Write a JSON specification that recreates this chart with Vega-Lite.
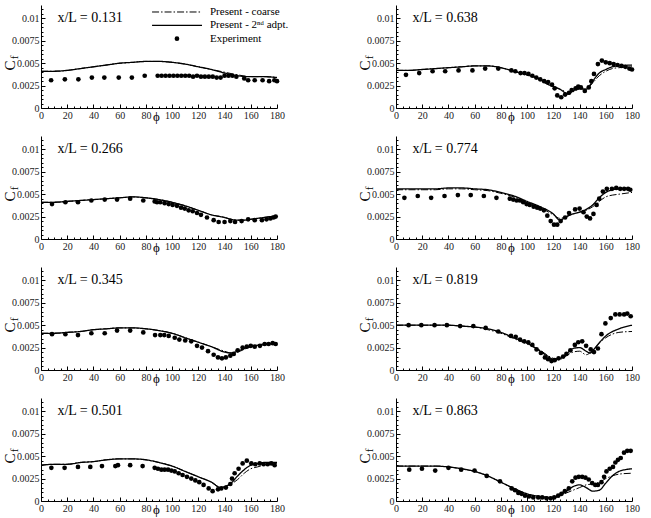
{
  "$schema": "https://vega.github.io/schema/vega-lite/v6.json",
  "background": "white",
  "padding": {"left": 2, "top": 4, "right": 5, "bottom": 5},
  "columns": 2,
  "spacing": {"row": 28, "column": 119},
  "bounds": "flush",
  "config": {
    "view": {"stroke": null},
    "font": "Liberation Serif",
    "axis": {
      "domainColor": "black", "domainWidth": 1, "tickColor": "black", "tickWidth": 1,
      "labelFont": "Liberation Serif", "labelFontSize": 10, "labelColor": "#222", "labelOverlap": false,
      "titleFont": "Liberation Serif", "titleFontWeight": "normal", "titleColor": "black",
      "grid": false
    }
  },
  "datasets": {
    "p131": [
      {"series":"coarse","phi":0,"cf":0.0041},{"series":"coarse","phi":10,"cf":0.0041},{"series":"coarse","phi":20,"cf":0.0042},{"series":"coarse","phi":30,"cf":0.0044},{"series":"coarse","phi":40,"cf":0.0046},{"series":"coarse","phi":50,"cf":0.0048},{"series":"coarse","phi":60,"cf":0.0050},{"series":"coarse","phi":70,"cf":0.0051},{"series":"coarse","phi":80,"cf":0.0052},{"series":"coarse","phi":90,"cf":0.0052},{"series":"coarse","phi":100,"cf":0.0051},{"series":"coarse","phi":110,"cf":0.0049},{"series":"coarse","phi":120,"cf":0.0046},{"series":"coarse","phi":130,"cf":0.0043},{"series":"coarse","phi":140,"cf":0.0040},{"series":"coarse","phi":150,"cf":0.0037},{"series":"coarse","phi":160,"cf":0.0035},{"series":"coarse","phi":170,"cf":0.0035},{"series":"coarse","phi":180,"cf":0.0034},
      {"series":"adapted","phi":0,"cf":0.0041},{"series":"adapted","phi":10,"cf":0.0041},{"series":"adapted","phi":20,"cf":0.0042},{"series":"adapted","phi":30,"cf":0.0044},{"series":"adapted","phi":40,"cf":0.0046},{"series":"adapted","phi":50,"cf":0.0048},{"series":"adapted","phi":60,"cf":0.0050},{"series":"adapted","phi":70,"cf":0.0051},{"series":"adapted","phi":80,"cf":0.0052},{"series":"adapted","phi":90,"cf":0.0052},{"series":"adapted","phi":100,"cf":0.0051},{"series":"adapted","phi":110,"cf":0.0049},{"series":"adapted","phi":120,"cf":0.0046},{"series":"adapted","phi":130,"cf":0.0043},{"series":"adapted","phi":140,"cf":0.0039},{"series":"adapted","phi":150,"cf":0.0036},{"series":"adapted","phi":160,"cf":0.0035},{"series":"adapted","phi":170,"cf":0.0035},{"series":"adapted","phi":180,"cf":0.0034},
      {"series":"Experiment","phi":7.7,"cf":0.0031},{"series":"Experiment","phi":18.2,"cf":0.0032},{"series":"Experiment","phi":28.5,"cf":0.0032},{"series":"Experiment","phi":38.8,"cf":0.0034},{"series":"Experiment","phi":48.3,"cf":0.0034},{"series":"Experiment","phi":59.3,"cf":0.0034},{"series":"Experiment","phi":69.3,"cf":0.0034},{"series":"Experiment","phi":79.1,"cf":0.0036},{"series":"Experiment","phi":89,"cf":0.0036},{"series":"Experiment","phi":92,"cf":0.0036},{"series":"Experiment","phi":95,"cf":0.0036},{"series":"Experiment","phi":98,"cf":0.0036},{"series":"Experiment","phi":101,"cf":0.0036},{"series":"Experiment","phi":104,"cf":0.0036},{"series":"Experiment","phi":107,"cf":0.0036},{"series":"Experiment","phi":110,"cf":0.0036},{"series":"Experiment","phi":113,"cf":0.0036},{"series":"Experiment","phi":116,"cf":0.0035},{"series":"Experiment","phi":119,"cf":0.0036},{"series":"Experiment","phi":122,"cf":0.0035},{"series":"Experiment","phi":125,"cf":0.0035},{"series":"Experiment","phi":128,"cf":0.0035},{"series":"Experiment","phi":131,"cf":0.0035},{"series":"Experiment","phi":134,"cf":0.0034},{"series":"Experiment","phi":137,"cf":0.0034},{"series":"Experiment","phi":140,"cf":0.0036},{"series":"Experiment","phi":143,"cf":0.0036},{"series":"Experiment","phi":146,"cf":0.0036},{"series":"Experiment","phi":149,"cf":0.0035},{"series":"Experiment","phi":155,"cf":0.0033},{"series":"Experiment","phi":158,"cf":0.0031},{"series":"Experiment","phi":163,"cf":0.0031},{"series":"Experiment","phi":169,"cf":0.0031},{"series":"Experiment","phi":174,"cf":0.0030},{"series":"Experiment","phi":178,"cf":0.0031},{"series":"Experiment","phi":180,"cf":0.0030}
    ],
    "p638": [
      {"series":"coarse","phi":0,"cf":0.0042},{"series":"coarse","phi":10,"cf":0.0042},{"series":"coarse","phi":20,"cf":0.0043},{"series":"coarse","phi":30,"cf":0.0044},{"series":"coarse","phi":40,"cf":0.0045},{"series":"coarse","phi":50,"cf":0.0046},{"series":"coarse","phi":60,"cf":0.0047},{"series":"coarse","phi":70,"cf":0.0047},{"series":"coarse","phi":80,"cf":0.0045},{"series":"coarse","phi":90,"cf":0.0041},{"series":"coarse","phi":100,"cf":0.0037},{"series":"coarse","phi":110,"cf":0.0032},{"series":"coarse","phi":115,"cf":0.0027},{"series":"coarse","phi":120,"cf":0.0024},{"series":"coarse","phi":125,"cf":0.0021},{"series":"coarse","phi":129,"cf":0.0018},{"series":"coarse","phi":131,"cf":0.0015},{"series":"coarse","phi":135,"cf":0.0018},{"series":"coarse","phi":140,"cf":0.0021},{"series":"coarse","phi":145,"cf":0.0021},{"series":"coarse","phi":150,"cf":0.0028},{"series":"coarse","phi":155,"cf":0.0036},{"series":"coarse","phi":160,"cf":0.0041},{"series":"coarse","phi":165,"cf":0.0044},{"series":"coarse","phi":170,"cf":0.0045},{"series":"coarse","phi":180,"cf":0.0046},
      {"series":"adapted","phi":0,"cf":0.0042},{"series":"adapted","phi":10,"cf":0.0042},{"series":"adapted","phi":20,"cf":0.0043},{"series":"adapted","phi":30,"cf":0.0044},{"series":"adapted","phi":40,"cf":0.0045},{"series":"adapted","phi":50,"cf":0.0046},{"series":"adapted","phi":60,"cf":0.0047},{"series":"adapted","phi":70,"cf":0.0047},{"series":"adapted","phi":80,"cf":0.0045},{"series":"adapted","phi":90,"cf":0.0041},{"series":"adapted","phi":100,"cf":0.0037},{"series":"adapted","phi":110,"cf":0.0032},{"series":"adapted","phi":115,"cf":0.0027},{"series":"adapted","phi":120,"cf":0.0024},{"series":"adapted","phi":125,"cf":0.0021},{"series":"adapted","phi":129,"cf":0.0017},{"series":"adapted","phi":131,"cf":0.0016},{"series":"adapted","phi":135,"cf":0.0019},{"series":"adapted","phi":140,"cf":0.0022},{"series":"adapted","phi":145,"cf":0.0021},{"series":"adapted","phi":150,"cf":0.0030},{"series":"adapted","phi":155,"cf":0.0039},{"series":"adapted","phi":160,"cf":0.0043},{"series":"adapted","phi":165,"cf":0.0046},{"series":"adapted","phi":170,"cf":0.0047},{"series":"adapted","phi":180,"cf":0.0048},
      {"series":"Experiment","phi":7.6,"cf":0.0037},{"series":"Experiment","phi":17.7,"cf":0.0039},{"series":"Experiment","phi":27.9,"cf":0.0041},{"series":"Experiment","phi":37.5,"cf":0.0041},{"series":"Experiment","phi":47.7,"cf":0.0042},{"series":"Experiment","phi":58.3,"cf":0.0042},{"series":"Experiment","phi":68,"cf":0.0044},{"series":"Experiment","phi":78,"cf":0.0044},{"series":"Experiment","phi":88,"cf":0.0042},{"series":"Experiment","phi":91,"cf":0.0041},{"series":"Experiment","phi":95,"cf":0.0039},{"series":"Experiment","phi":98,"cf":0.0039},{"series":"Experiment","phi":101,"cf":0.0038},{"series":"Experiment","phi":104,"cf":0.0036},{"series":"Experiment","phi":107,"cf":0.0034},{"series":"Experiment","phi":110,"cf":0.0032},{"series":"Experiment","phi":113,"cf":0.0030},{"series":"Experiment","phi":116,"cf":0.0029},{"series":"Experiment","phi":119,"cf":0.0026},{"series":"Experiment","phi":121,"cf":0.0022},{"series":"Experiment","phi":123,"cf":0.0014},{"series":"Experiment","phi":126,"cf":0.0012},{"series":"Experiment","phi":129,"cf":0.0015},{"series":"Experiment","phi":132,"cf":0.0017},{"series":"Experiment","phi":134,"cf":0.0020},{"series":"Experiment","phi":137,"cf":0.0022},{"series":"Experiment","phi":139,"cf":0.0024},{"series":"Experiment","phi":141,"cf":0.0023},{"series":"Experiment","phi":144,"cf":0.0019},{"series":"Experiment","phi":147,"cf":0.0023},{"series":"Experiment","phi":149,"cf":0.0030},{"series":"Experiment","phi":151,"cf":0.0038},{"series":"Experiment","phi":154,"cf":0.0049},{"series":"Experiment","phi":157,"cf":0.0053},{"series":"Experiment","phi":160,"cf":0.0051},{"series":"Experiment","phi":163,"cf":0.0050},{"series":"Experiment","phi":166,"cf":0.0049},{"series":"Experiment","phi":169,"cf":0.0048},{"series":"Experiment","phi":172,"cf":0.0047},{"series":"Experiment","phi":175,"cf":0.0046},{"series":"Experiment","phi":178,"cf":0.0044},{"series":"Experiment","phi":180,"cf":0.0043}
    ],
    "p266": [
      {"series":"coarse","phi":0,"cf":0.0041},{"series":"coarse","phi":10,"cf":0.0041},{"series":"coarse","phi":20,"cf":0.0042},{"series":"coarse","phi":30,"cf":0.0043},{"series":"coarse","phi":40,"cf":0.0044},{"series":"coarse","phi":50,"cf":0.0045},{"series":"coarse","phi":60,"cf":0.0046},{"series":"coarse","phi":70,"cf":0.0047},{"series":"coarse","phi":80,"cf":0.0046},{"series":"coarse","phi":90,"cf":0.0044},{"series":"coarse","phi":100,"cf":0.0041},{"series":"coarse","phi":110,"cf":0.0037},{"series":"coarse","phi":120,"cf":0.0032},{"series":"coarse","phi":130,"cf":0.0027},{"series":"coarse","phi":140,"cf":0.0024},{"series":"coarse","phi":145,"cf":0.0022},{"series":"coarse","phi":150,"cf":0.0021},{"series":"coarse","phi":155,"cf":0.0021},{"series":"coarse","phi":160,"cf":0.0022},{"series":"coarse","phi":170,"cf":0.0024},{"series":"coarse","phi":180,"cf":0.0026},
      {"series":"adapted","phi":0,"cf":0.0041},{"series":"adapted","phi":10,"cf":0.0041},{"series":"adapted","phi":20,"cf":0.0042},{"series":"adapted","phi":30,"cf":0.0043},{"series":"adapted","phi":40,"cf":0.0044},{"series":"adapted","phi":50,"cf":0.0045},{"series":"adapted","phi":60,"cf":0.0046},{"series":"adapted","phi":70,"cf":0.0047},{"series":"adapted","phi":80,"cf":0.0046},{"series":"adapted","phi":90,"cf":0.0044},{"series":"adapted","phi":100,"cf":0.0041},{"series":"adapted","phi":110,"cf":0.0037},{"series":"adapted","phi":120,"cf":0.0032},{"series":"adapted","phi":130,"cf":0.0027},{"series":"adapted","phi":140,"cf":0.0024},{"series":"adapted","phi":145,"cf":0.0022},{"series":"adapted","phi":150,"cf":0.0021},{"series":"adapted","phi":155,"cf":0.0021},{"series":"adapted","phi":160,"cf":0.0022},{"series":"adapted","phi":170,"cf":0.0024},{"series":"adapted","phi":180,"cf":0.0026},
      {"series":"Experiment","phi":8.4,"cf":0.0039},{"series":"Experiment","phi":18.6,"cf":0.0041},{"series":"Experiment","phi":28.2,"cf":0.0041},{"series":"Experiment","phi":38.4,"cf":0.0043},{"series":"Experiment","phi":48.6,"cf":0.0044},{"series":"Experiment","phi":58,"cf":0.0044},{"series":"Experiment","phi":68,"cf":0.0045},{"series":"Experiment","phi":78,"cf":0.0043},{"series":"Experiment","phi":86.7,"cf":0.0042},{"series":"Experiment","phi":88.5,"cf":0.0041},{"series":"Experiment","phi":91,"cf":0.0041},{"series":"Experiment","phi":94.3,"cf":0.0040},{"series":"Experiment","phi":97.4,"cf":0.0039},{"series":"Experiment","phi":100.4,"cf":0.0038},{"series":"Experiment","phi":103.7,"cf":0.0037},{"series":"Experiment","phi":106.8,"cf":0.0035},{"series":"Experiment","phi":109.6,"cf":0.0034},{"series":"Experiment","phi":112.6,"cf":0.0032},{"series":"Experiment","phi":115.7,"cf":0.0031},{"series":"Experiment","phi":119,"cf":0.0029},{"series":"Experiment","phi":122,"cf":0.0027},{"series":"Experiment","phi":126.6,"cf":0.0024},{"series":"Experiment","phi":131.7,"cf":0.0021},{"series":"Experiment","phi":135.5,"cf":0.0019},{"series":"Experiment","phi":140,"cf":0.0019},{"series":"Experiment","phi":144.4,"cf":0.0020},{"series":"Experiment","phi":148,"cf":0.0019},{"series":"Experiment","phi":153,"cf":0.0020},{"series":"Experiment","phi":158,"cf":0.0022},{"series":"Experiment","phi":163,"cf":0.0021},{"series":"Experiment","phi":168.5,"cf":0.0021},{"series":"Experiment","phi":172,"cf":0.0022},{"series":"Experiment","phi":175,"cf":0.0023},{"series":"Experiment","phi":177.4,"cf":0.0024},{"series":"Experiment","phi":179,"cf":0.0025}
    ],
    "p774": [
      {"series":"coarse","phi":0,"cf":0.0055},{"series":"coarse","phi":10,"cf":0.0055},{"series":"coarse","phi":20,"cf":0.0055},{"series":"coarse","phi":30,"cf":0.0055},{"series":"coarse","phi":40,"cf":0.0056},{"series":"coarse","phi":50,"cf":0.0056},{"series":"coarse","phi":60,"cf":0.0055},{"series":"coarse","phi":70,"cf":0.0054},{"series":"coarse","phi":80,"cf":0.0051},{"series":"coarse","phi":90,"cf":0.0047},{"series":"coarse","phi":100,"cf":0.0041},{"series":"coarse","phi":110,"cf":0.0035},{"series":"coarse","phi":120,"cf":0.0027},{"series":"coarse","phi":125,"cf":0.0023},{"series":"coarse","phi":130,"cf":0.0025},{"series":"coarse","phi":135,"cf":0.0028},{"series":"coarse","phi":140,"cf":0.0030},{"series":"coarse","phi":145,"cf":0.0032},{"series":"coarse","phi":150,"cf":0.0036},{"series":"coarse","phi":155,"cf":0.0042},{"series":"coarse","phi":160,"cf":0.0047},{"series":"coarse","phi":165,"cf":0.0049},{"series":"coarse","phi":170,"cf":0.0050},{"series":"coarse","phi":180,"cf":0.0052},
      {"series":"adapted","phi":0,"cf":0.0056},{"series":"adapted","phi":10,"cf":0.0056},{"series":"adapted","phi":20,"cf":0.0056},{"series":"adapted","phi":30,"cf":0.0056},{"series":"adapted","phi":40,"cf":0.0057},{"series":"adapted","phi":50,"cf":0.0057},{"series":"adapted","phi":60,"cf":0.0056},{"series":"adapted","phi":70,"cf":0.0055},{"series":"adapted","phi":80,"cf":0.0052},{"series":"adapted","phi":90,"cf":0.0048},{"series":"adapted","phi":100,"cf":0.0042},{"series":"adapted","phi":110,"cf":0.0036},{"series":"adapted","phi":120,"cf":0.0028},{"series":"adapted","phi":125,"cf":0.0021},{"series":"adapted","phi":130,"cf":0.0025},{"series":"adapted","phi":135,"cf":0.0028},{"series":"adapted","phi":140,"cf":0.0030},{"series":"adapted","phi":145,"cf":0.0033},{"series":"adapted","phi":150,"cf":0.0038},{"series":"adapted","phi":155,"cf":0.0046},{"series":"adapted","phi":160,"cf":0.0052},{"series":"adapted","phi":165,"cf":0.0055},{"series":"adapted","phi":170,"cf":0.0056},{"series":"adapted","phi":180,"cf":0.0055},
      {"series":"Experiment","phi":6.4,"cf":0.0046},{"series":"Experiment","phi":16.6,"cf":0.0048},{"series":"Experiment","phi":26.8,"cf":0.0046},{"series":"Experiment","phi":37,"cf":0.0048},{"series":"Experiment","phi":47.2,"cf":0.0049},{"series":"Experiment","phi":57,"cf":0.0049},{"series":"Experiment","phi":67,"cf":0.0048},{"series":"Experiment","phi":76.6,"cf":0.0046},{"series":"Experiment","phi":86.8,"cf":0.0045},{"series":"Experiment","phi":89.4,"cf":0.0044},{"series":"Experiment","phi":92,"cf":0.0043},{"series":"Experiment","phi":94.5,"cf":0.0043},{"series":"Experiment","phi":97,"cf":0.0041},{"series":"Experiment","phi":99.6,"cf":0.0039},{"series":"Experiment","phi":102,"cf":0.0038},{"series":"Experiment","phi":105,"cf":0.0036},{"series":"Experiment","phi":107.7,"cf":0.0035},{"series":"Experiment","phi":110,"cf":0.0034},{"series":"Experiment","phi":112.8,"cf":0.0032},{"series":"Experiment","phi":115.4,"cf":0.0026},{"series":"Experiment","phi":118,"cf":0.0020},{"series":"Experiment","phi":120.5,"cf":0.0016},{"series":"Experiment","phi":123,"cf":0.0016},{"series":"Experiment","phi":125.6,"cf":0.0020},{"series":"Experiment","phi":129,"cf":0.0024},{"series":"Experiment","phi":132,"cf":0.0029},{"series":"Experiment","phi":136.6,"cf":0.0033},{"series":"Experiment","phi":140,"cf":0.0034},{"series":"Experiment","phi":143,"cf":0.0030},{"series":"Experiment","phi":145.5,"cf":0.0025},{"series":"Experiment","phi":148,"cf":0.0023},{"series":"Experiment","phi":150.6,"cf":0.0028},{"series":"Experiment","phi":153,"cf":0.0038},{"series":"Experiment","phi":155,"cf":0.0045},{"series":"Experiment","phi":157.8,"cf":0.0053},{"series":"Experiment","phi":160.8,"cf":0.0056},{"series":"Experiment","phi":164.7,"cf":0.0056},{"series":"Experiment","phi":168,"cf":0.0057},{"series":"Experiment","phi":171,"cf":0.0056},{"series":"Experiment","phi":174,"cf":0.0056},{"series":"Experiment","phi":177,"cf":0.0056},{"series":"Experiment","phi":178.7,"cf":0.0055}
    ],
    "p345": [
      {"series":"coarse","phi":0,"cf":0.0041},{"series":"coarse","phi":10,"cf":0.0041},{"series":"coarse","phi":20,"cf":0.0042},{"series":"coarse","phi":30,"cf":0.0043},{"series":"coarse","phi":40,"cf":0.0045},{"series":"coarse","phi":50,"cf":0.0046},{"series":"coarse","phi":60,"cf":0.0047},{"series":"coarse","phi":70,"cf":0.0047},{"series":"coarse","phi":80,"cf":0.0046},{"series":"coarse","phi":90,"cf":0.0044},{"series":"coarse","phi":100,"cf":0.0041},{"series":"coarse","phi":110,"cf":0.0036},{"series":"coarse","phi":120,"cf":0.0031},{"series":"coarse","phi":130,"cf":0.0026},{"series":"coarse","phi":140,"cf":0.0021},{"series":"coarse","phi":145,"cf":0.0019},{"series":"coarse","phi":150,"cf":0.0020},{"series":"coarse","phi":155,"cf":0.0023},{"series":"coarse","phi":160,"cf":0.0026},{"series":"coarse","phi":170,"cf":0.0028},{"series":"coarse","phi":180,"cf":0.0030},
      {"series":"adapted","phi":0,"cf":0.0041},{"series":"adapted","phi":10,"cf":0.0041},{"series":"adapted","phi":20,"cf":0.0042},{"series":"adapted","phi":30,"cf":0.0043},{"series":"adapted","phi":40,"cf":0.0045},{"series":"adapted","phi":50,"cf":0.0046},{"series":"adapted","phi":60,"cf":0.0047},{"series":"adapted","phi":70,"cf":0.0047},{"series":"adapted","phi":80,"cf":0.0046},{"series":"adapted","phi":90,"cf":0.0044},{"series":"adapted","phi":100,"cf":0.0041},{"series":"adapted","phi":110,"cf":0.0036},{"series":"adapted","phi":120,"cf":0.0031},{"series":"adapted","phi":130,"cf":0.0026},{"series":"adapted","phi":140,"cf":0.0020},{"series":"adapted","phi":145,"cf":0.0019},{"series":"adapted","phi":150,"cf":0.0021},{"series":"adapted","phi":155,"cf":0.0024},{"series":"adapted","phi":160,"cf":0.0026},{"series":"adapted","phi":170,"cf":0.0029},{"series":"adapted","phi":180,"cf":0.0030},
      {"series":"Experiment","phi":8.4,"cf":0.0040},{"series":"Experiment","phi":18.6,"cf":0.0040},{"series":"Experiment","phi":28.2,"cf":0.0039},{"series":"Experiment","phi":38.4,"cf":0.0041},{"series":"Experiment","phi":48.6,"cf":0.0041},{"series":"Experiment","phi":58,"cf":0.0044},{"series":"Experiment","phi":68,"cf":0.0044},{"series":"Experiment","phi":78,"cf":0.0042},{"series":"Experiment","phi":87,"cf":0.0039},{"series":"Experiment","phi":91,"cf":0.0039},{"series":"Experiment","phi":94,"cf":0.0039},{"series":"Experiment","phi":97.4,"cf":0.0038},{"series":"Experiment","phi":102,"cf":0.0036},{"series":"Experiment","phi":105.5,"cf":0.0034},{"series":"Experiment","phi":110,"cf":0.0033},{"series":"Experiment","phi":114.6,"cf":0.0032},{"series":"Experiment","phi":119,"cf":0.0027},{"series":"Experiment","phi":122.8,"cf":0.0025},{"series":"Experiment","phi":127.4,"cf":0.0021},{"series":"Experiment","phi":131.7,"cf":0.0017},{"series":"Experiment","phi":135,"cf":0.0014},{"series":"Experiment","phi":138,"cf":0.0013},{"series":"Experiment","phi":141,"cf":0.0014},{"series":"Experiment","phi":144.4,"cf":0.0016},{"series":"Experiment","phi":147,"cf":0.0018},{"series":"Experiment","phi":150,"cf":0.0022},{"series":"Experiment","phi":153.8,"cf":0.0025},{"series":"Experiment","phi":157,"cf":0.0026},{"series":"Experiment","phi":160,"cf":0.0027},{"series":"Experiment","phi":163,"cf":0.0026},{"series":"Experiment","phi":167,"cf":0.0027},{"series":"Experiment","phi":170.6,"cf":0.0029},{"series":"Experiment","phi":173.6,"cf":0.0029},{"series":"Experiment","phi":176.7,"cf":0.0030},{"series":"Experiment","phi":179,"cf":0.0029}
    ],
    "p819": [
      {"series":"coarse","phi":0,"cf":0.0050},{"series":"coarse","phi":10,"cf":0.0050},{"series":"coarse","phi":20,"cf":0.0050},{"series":"coarse","phi":30,"cf":0.0050},{"series":"coarse","phi":40,"cf":0.0050},{"series":"coarse","phi":50,"cf":0.0049},{"series":"coarse","phi":60,"cf":0.0048},{"series":"coarse","phi":70,"cf":0.0045},{"series":"coarse","phi":80,"cf":0.0041},{"series":"coarse","phi":90,"cf":0.0035},{"series":"coarse","phi":100,"cf":0.0029},{"series":"coarse","phi":110,"cf":0.0022},{"series":"coarse","phi":115,"cf":0.0017},{"series":"coarse","phi":120,"cf":0.0013},{"series":"coarse","phi":125,"cf":0.0012},{"series":"coarse","phi":130,"cf":0.0016},{"series":"coarse","phi":135,"cf":0.0020},{"series":"coarse","phi":140,"cf":0.0021},{"series":"coarse","phi":145,"cf":0.0017},{"series":"coarse","phi":150,"cf":0.0022},{"series":"coarse","phi":155,"cf":0.0030},{"series":"coarse","phi":160,"cf":0.0036},{"series":"coarse","phi":170,"cf":0.0042},{"series":"coarse","phi":180,"cf":0.0043},
      {"series":"adapted","phi":0,"cf":0.0050},{"series":"adapted","phi":10,"cf":0.0050},{"series":"adapted","phi":20,"cf":0.0050},{"series":"adapted","phi":30,"cf":0.0050},{"series":"adapted","phi":40,"cf":0.0050},{"series":"adapted","phi":50,"cf":0.0049},{"series":"adapted","phi":60,"cf":0.0048},{"series":"adapted","phi":70,"cf":0.0046},{"series":"adapted","phi":80,"cf":0.0042},{"series":"adapted","phi":90,"cf":0.0036},{"series":"adapted","phi":100,"cf":0.0030},{"series":"adapted","phi":110,"cf":0.0021},{"series":"adapted","phi":115,"cf":0.0016},{"series":"adapted","phi":120,"cf":0.0012},{"series":"adapted","phi":125,"cf":0.0013},{"series":"adapted","phi":130,"cf":0.0018},{"series":"adapted","phi":135,"cf":0.0024},{"series":"adapted","phi":140,"cf":0.0025},{"series":"adapted","phi":145,"cf":0.0021},{"series":"adapted","phi":148,"cf":0.0019},{"series":"adapted","phi":152,"cf":0.0025},{"series":"adapted","phi":156,"cf":0.0032},{"series":"adapted","phi":160,"cf":0.0038},{"series":"adapted","phi":170,"cf":0.0046},{"series":"adapted","phi":180,"cf":0.0050},
      {"series":"Experiment","phi":9.6,"cf":0.0050},{"series":"Experiment","phi":19.3,"cf":0.0050},{"series":"Experiment","phi":29.4,"cf":0.0050},{"series":"Experiment","phi":38.8,"cf":0.0050},{"series":"Experiment","phi":48.9,"cf":0.0049},{"series":"Experiment","phi":59,"cf":0.0049},{"series":"Experiment","phi":68.4,"cf":0.0047},{"series":"Experiment","phi":78,"cf":0.0043},{"series":"Experiment","phi":87.7,"cf":0.0038},{"series":"Experiment","phi":91.3,"cf":0.0037},{"series":"Experiment","phi":94.6,"cf":0.0034},{"series":"Experiment","phi":97.8,"cf":0.0032},{"series":"Experiment","phi":100.9,"cf":0.0031},{"series":"Experiment","phi":104,"cf":0.0028},{"series":"Experiment","phi":107.2,"cf":0.0023},{"series":"Experiment","phi":110.5,"cf":0.0019},{"series":"Experiment","phi":113.6,"cf":0.0014},{"series":"Experiment","phi":116,"cf":0.0012},{"series":"Experiment","phi":118.6,"cf":0.0010},{"series":"Experiment","phi":121,"cf":0.0011},{"series":"Experiment","phi":124,"cf":0.0013},{"series":"Experiment","phi":127.5,"cf":0.0015},{"series":"Experiment","phi":130,"cf":0.0018},{"series":"Experiment","phi":133,"cf":0.0022},{"series":"Experiment","phi":136.4,"cf":0.0028},{"series":"Experiment","phi":139,"cf":0.0031},{"series":"Experiment","phi":142,"cf":0.0032},{"series":"Experiment","phi":145,"cf":0.0027},{"series":"Experiment","phi":148.5,"cf":0.0023},{"series":"Experiment","phi":151,"cf":0.0020},{"series":"Experiment","phi":154,"cf":0.0024},{"series":"Experiment","phi":156.7,"cf":0.0040},{"series":"Experiment","phi":159.7,"cf":0.0052},{"series":"Experiment","phi":163.8,"cf":0.0058},{"series":"Experiment","phi":167.3,"cf":0.0062},{"series":"Experiment","phi":170.6,"cf":0.0062},{"series":"Experiment","phi":174,"cf":0.0062},{"series":"Experiment","phi":176.4,"cf":0.0063},{"series":"Experiment","phi":179,"cf":0.0060}
    ],
    "p501": [
      {"series":"coarse","phi":0,"cf":0.0040},{"series":"coarse","phi":10,"cf":0.0041},{"series":"coarse","phi":20,"cf":0.0041},{"series":"coarse","phi":30,"cf":0.0043},{"series":"coarse","phi":40,"cf":0.0044},{"series":"coarse","phi":50,"cf":0.0046},{"series":"coarse","phi":60,"cf":0.0047},{"series":"coarse","phi":70,"cf":0.0047},{"series":"coarse","phi":80,"cf":0.0046},{"series":"coarse","phi":90,"cf":0.0043},{"series":"coarse","phi":100,"cf":0.0039},{"series":"coarse","phi":110,"cf":0.0033},{"series":"coarse","phi":120,"cf":0.0027},{"series":"coarse","phi":130,"cf":0.0021},{"series":"coarse","phi":137,"cf":0.0015},{"series":"coarse","phi":140,"cf":0.0016},{"series":"coarse","phi":145,"cf":0.0019},{"series":"coarse","phi":150,"cf":0.0024},{"series":"coarse","phi":155,"cf":0.0031},{"series":"coarse","phi":160,"cf":0.0036},{"series":"coarse","phi":165,"cf":0.0038},{"series":"coarse","phi":170,"cf":0.0040},{"series":"coarse","phi":180,"cf":0.0042},
      {"series":"adapted","phi":0,"cf":0.0040},{"series":"adapted","phi":10,"cf":0.0041},{"series":"adapted","phi":20,"cf":0.0041},{"series":"adapted","phi":30,"cf":0.0043},{"series":"adapted","phi":40,"cf":0.0044},{"series":"adapted","phi":50,"cf":0.0046},{"series":"adapted","phi":60,"cf":0.0047},{"series":"adapted","phi":70,"cf":0.0047},{"series":"adapted","phi":80,"cf":0.0046},{"series":"adapted","phi":90,"cf":0.0043},{"series":"adapted","phi":100,"cf":0.0039},{"series":"adapted","phi":110,"cf":0.0033},{"series":"adapted","phi":120,"cf":0.0027},{"series":"adapted","phi":130,"cf":0.0021},{"series":"adapted","phi":137,"cf":0.0015},{"series":"adapted","phi":140,"cf":0.0016},{"series":"adapted","phi":145,"cf":0.0020},{"series":"adapted","phi":150,"cf":0.0028},{"series":"adapted","phi":155,"cf":0.0035},{"series":"adapted","phi":160,"cf":0.0040},{"series":"adapted","phi":165,"cf":0.0042},{"series":"adapted","phi":170,"cf":0.0043},{"series":"adapted","phi":180,"cf":0.0043},
      {"series":"Experiment","phi":7.9,"cf":0.0037},{"series":"Experiment","phi":18,"cf":0.0037},{"series":"Experiment","phi":28.2,"cf":0.0038},{"series":"Experiment","phi":37.6,"cf":0.0038},{"series":"Experiment","phi":46.5,"cf":0.0039},{"series":"Experiment","phi":56.7,"cf":0.0039},{"series":"Experiment","phi":58.7,"cf":0.0040},{"series":"Experiment","phi":68,"cf":0.0040},{"series":"Experiment","phi":77.5,"cf":0.0039},{"series":"Experiment","phi":86.7,"cf":0.0037},{"series":"Experiment","phi":89.2,"cf":0.0036},{"series":"Experiment","phi":91.8,"cf":0.0035},{"series":"Experiment","phi":94.3,"cf":0.0035},{"series":"Experiment","phi":96.9,"cf":0.0035},{"series":"Experiment","phi":99.4,"cf":0.0034},{"series":"Experiment","phi":102,"cf":0.0033},{"series":"Experiment","phi":105,"cf":0.0031},{"series":"Experiment","phi":108,"cf":0.0029},{"series":"Experiment","phi":111.3,"cf":0.0027},{"series":"Experiment","phi":114.6,"cf":0.0025},{"series":"Experiment","phi":117.7,"cf":0.0023},{"series":"Experiment","phi":120.7,"cf":0.0021},{"series":"Experiment","phi":124,"cf":0.0018},{"series":"Experiment","phi":127.9,"cf":0.0014},{"series":"Experiment","phi":130.9,"cf":0.0011},{"series":"Experiment","phi":135,"cf":0.0013},{"series":"Experiment","phi":137.5,"cf":0.0014},{"series":"Experiment","phi":141,"cf":0.0015},{"series":"Experiment","phi":144.4,"cf":0.0019},{"series":"Experiment","phi":145.7,"cf":0.0025},{"series":"Experiment","phi":147.7,"cf":0.0031},{"series":"Experiment","phi":150.7,"cf":0.0036},{"series":"Experiment","phi":153.8,"cf":0.0042},{"series":"Experiment","phi":157,"cf":0.0045},{"series":"Experiment","phi":160.4,"cf":0.0042},{"series":"Experiment","phi":163.4,"cf":0.0041},{"series":"Experiment","phi":166.8,"cf":0.0042},{"series":"Experiment","phi":169.8,"cf":0.0041},{"series":"Experiment","phi":172.9,"cf":0.0041},{"series":"Experiment","phi":175.6,"cf":0.0042},{"series":"Experiment","phi":178.2,"cf":0.0040}
    ],
    "p863": [
      {"series":"coarse","phi":0,"cf":0.0039},{"series":"coarse","phi":10,"cf":0.0039},{"series":"coarse","phi":20,"cf":0.0039},{"series":"coarse","phi":30,"cf":0.0039},{"series":"coarse","phi":40,"cf":0.0038},{"series":"coarse","phi":50,"cf":0.0036},{"series":"coarse","phi":60,"cf":0.0033},{"series":"coarse","phi":70,"cf":0.0028},{"series":"coarse","phi":80,"cf":0.0021},{"series":"coarse","phi":90,"cf":0.0014},{"series":"coarse","phi":100,"cf":0.0008},{"series":"coarse","phi":110,"cf":0.0005},{"series":"coarse","phi":120,"cf":0.0004},{"series":"coarse","phi":125,"cf":0.0006},{"series":"coarse","phi":130,"cf":0.0009},{"series":"coarse","phi":135,"cf":0.0012},{"series":"coarse","phi":140,"cf":0.0015},{"series":"coarse","phi":145,"cf":0.0018},{"series":"coarse","phi":150,"cf":0.0019},{"series":"coarse","phi":155,"cf":0.0021},{"series":"coarse","phi":160,"cf":0.0025},{"series":"coarse","phi":165,"cf":0.0028},{"series":"coarse","phi":170,"cf":0.0030},{"series":"coarse","phi":180,"cf":0.0031},
      {"series":"adapted","phi":0,"cf":0.0039},{"series":"adapted","phi":10,"cf":0.0039},{"series":"adapted","phi":20,"cf":0.0039},{"series":"adapted","phi":30,"cf":0.0039},{"series":"adapted","phi":40,"cf":0.0038},{"series":"adapted","phi":50,"cf":0.0036},{"series":"adapted","phi":60,"cf":0.0033},{"series":"adapted","phi":70,"cf":0.0028},{"series":"adapted","phi":80,"cf":0.0021},{"series":"adapted","phi":90,"cf":0.0014},{"series":"adapted","phi":100,"cf":0.0008},{"series":"adapted","phi":110,"cf":0.0005},{"series":"adapted","phi":120,"cf":0.0004},{"series":"adapted","phi":125,"cf":0.0006},{"series":"adapted","phi":130,"cf":0.0011},{"series":"adapted","phi":135,"cf":0.0016},{"series":"adapted","phi":140,"cf":0.0018},{"series":"adapted","phi":145,"cf":0.0015},{"series":"adapted","phi":150,"cf":0.0011},{"series":"adapted","phi":155,"cf":0.0012},{"series":"adapted","phi":160,"cf":0.0020},{"series":"adapted","phi":165,"cf":0.0028},{"series":"adapted","phi":170,"cf":0.0033},{"series":"adapted","phi":175,"cf":0.0035},{"series":"adapted","phi":180,"cf":0.0036},
      {"series":"Experiment","phi":10.1,"cf":0.0035},{"series":"Experiment","phi":19.8,"cf":0.0036},{"series":"Experiment","phi":29.9,"cf":0.0034},{"series":"Experiment","phi":40,"cf":0.0037},{"series":"Experiment","phi":49.7,"cf":0.0035},{"series":"Experiment","phi":59.9,"cf":0.0034},{"series":"Experiment","phi":69.2,"cf":0.0028},{"series":"Experiment","phi":79.3,"cf":0.0022},{"series":"Experiment","phi":88.2,"cf":0.0014},{"series":"Experiment","phi":90.8,"cf":0.0012},{"series":"Experiment","phi":93.3,"cf":0.0009},{"series":"Experiment","phi":95.8,"cf":0.0008},{"series":"Experiment","phi":98.4,"cf":0.0006},{"series":"Experiment","phi":101.4,"cf":0.0005},{"series":"Experiment","phi":104.7,"cf":0.0004},{"series":"Experiment","phi":108.5,"cf":0.0004},{"series":"Experiment","phi":111.5,"cf":0.0004},{"series":"Experiment","phi":114.8,"cf":0.0003},{"series":"Experiment","phi":118,"cf":0.0003},{"series":"Experiment","phi":120.7,"cf":0.0004},{"series":"Experiment","phi":123.7,"cf":0.0006},{"series":"Experiment","phi":126.2,"cf":0.0008},{"series":"Experiment","phi":128.8,"cf":0.0011},{"series":"Experiment","phi":131.8,"cf":0.0014},{"series":"Experiment","phi":134.4,"cf":0.0022},{"series":"Experiment","phi":136.9,"cf":0.0026},{"series":"Experiment","phi":139.4,"cf":0.0027},{"series":"Experiment","phi":142,"cf":0.0027},{"series":"Experiment","phi":144.5,"cf":0.0026},{"series":"Experiment","phi":147,"cf":0.0024},{"series":"Experiment","phi":149.6,"cf":0.0020},{"series":"Experiment","phi":152,"cf":0.0018},{"series":"Experiment","phi":154,"cf":0.0018},{"series":"Experiment","phi":156.7,"cf":0.0021},{"series":"Experiment","phi":158.7,"cf":0.0027},{"series":"Experiment","phi":160.5,"cf":0.0033},{"series":"Experiment","phi":163,"cf":0.0036},{"series":"Experiment","phi":165.5,"cf":0.0038},{"series":"Experiment","phi":167.3,"cf":0.0043},{"series":"Experiment","phi":169.3,"cf":0.0046},{"series":"Experiment","phi":171.4,"cf":0.0048},{"series":"Experiment","phi":173.9,"cf":0.0054},{"series":"Experiment","phi":176.4,"cf":0.0056},{"series":"Experiment","phi":179,"cf":0.0056}
    ]
  },
  "concat": [
    {
      "width": 236, "height": 103,
      "resolve": {"axis": {"y": "independent"}},
      "layer": [
        {"data": {"name": "p131"}, "transform": [{"filter": "datum.series !== 'Experiment'"}],
         "mark": {"type": "line", "color": "black", "interpolate": "monotone"},
         "encoding": {
           "x": {"field": "phi", "type": "quantitative", "title": "ϕ", "scale": {"domain": [0, 180], "nice": false},
                 "axis": {"values": [0,5,10,15,20,25,30,35,40,45,50,55,60,65,70,75,80,85,90,95,100,105,110,115,120,125,130,135,140,145,150,155,160,165,170,175,180], "tickCount": 100, "labelExpr": "datum.value % 20 === 0 ? datum.label : ''", "labelFlush": false, "labelOverlap": false, "tickSize": {"condition": {"test": "datum.value % 20 === 0", "value": -4}, "value": -2}, "labelPadding": 6, "titleX": 115, "titleY": 12, "titleBaseline": "alphabetic", "titleFontSize": 13}},
           "y": {"field": "cf", "type": "quantitative", "scale": {"domain": [0, 0.0115], "nice": false},
                 "axis": {"values": [0,0.0005,0.001,0.0015,0.002,0.0025,0.003,0.0035,0.004,0.0045,0.005,0.0055,0.006,0.0065,0.007,0.0075,0.008,0.0085,0.009,0.0095,0.01,0.0105,0.011], "tickCount": 100, "labelExpr": "abs(datum.value*400 - round(datum.value*400)) < 0.001 ? toString(round(datum.value*10000)/10000) : ''", "labelOverlap": false, "tickSize": {"condition": {"test": "abs(datum.value*400 - round(datum.value*400)) < 0.001", "value": -4}, "value": -2}, "labelPadding": 6, "title": "C", "titleX": -27, "titleY": 60, "titleAngle": 270, "titleAlign": "center", "titleBaseline": "alphabetic", "titleFontSize": 15}},
           "strokeDash": {"field": "series", "type": "nominal", "scale": {"domain": ["coarse", "adapted"], "range": [[7, 2, 1.5, 2], [1, 0]]}, "legend": null},
           "strokeWidth": {"field": "series", "type": "ordinal", "scale": {"domain": ["coarse", "adapted"], "range": [1, 1.3]}, "legend": null}
         }},
        {"data": {"name": "p131"}, "transform": [{"filter": "datum.series === 'Experiment'"}],
         "mark": {"type": "circle", "color": "black", "size": 22, "opacity": 1},
         "encoding": {"x": {"field": "phi", "type": "quantitative", "title": "ϕ"}, "y": {"field": "cf", "type": "quantitative", "axis": null}}},
        {"data": {"values": [{"label": "x/L = 0.131"}]},
         "mark": {"type": "text", "align": "left", "baseline": "alphabetic", "font": "Liberation Serif", "fontSize": 14, "color": "black"},
         "encoding": {"x": {"datum": 12.5, "type": "quantitative", "title": "ϕ"},
                      "y": {"datum": 0.0096, "type": "quantitative", "axis": {"orient": "left", "domain": false, "ticks": false, "labels": false, "grid": false, "title": "f", "titleX": -24, "titleY": 52, "titleAngle": 270, "titleAlign": "center", "titleBaseline": "alphabetic", "titleFontSize": 11}},
                      "text": {"field": "label"}}},
        {"data": {"values": [{"label": "Present - coarse"}]},
         "mark": {"type": "rule", "color": "black", "strokeWidth": 1, "strokeDash": [7, 2, 1.5, 2]},
         "encoding": {"x": {"datum": 84.7, "type": "quantitative", "title": "ϕ"}, "x2": {"datum": 122.8}, "y": {"datum": 0.01072, "type": "quantitative", "axis": null}}},
        {"data": {"values": [{"label": "Present - coarse"}]},
         "mark": {"type": "text", "align": "left", "baseline": "middle", "font": "Liberation Serif", "fontSize": 11, "color": "black"},
         "encoding": {"x": {"datum": 128.9, "type": "quantitative", "title": "ϕ"}, "y": {"datum": 0.01072, "type": "quantitative", "axis": null}, "text": {"field": "label"}}},
        {"data": {"values": [{"label": "Present - 2ⁿᵈ adpt."}]},
         "mark": {"type": "rule", "color": "black", "strokeWidth": 1.3},
         "encoding": {"x": {"datum": 84.7, "type": "quantitative", "title": "ϕ"}, "x2": {"datum": 122.8}, "y": {"datum": 0.00923, "type": "quantitative", "axis": null}}},
        {"data": {"values": [{"label": "Present - 2ⁿᵈ adpt."}]},
         "mark": {"type": "text", "align": "left", "baseline": "middle", "font": "Liberation Serif", "fontSize": 11, "color": "black"},
         "encoding": {"x": {"datum": 128.9, "type": "quantitative", "title": "ϕ"}, "y": {"datum": 0.00923, "type": "quantitative", "axis": null}, "text": {"field": "label"}}},
        {"data": {"values": [{"label": "Experiment"}]},
         "mark": {"type": "circle", "color": "black", "size": 22, "opacity": 1},
         "encoding": {"x": {"datum": 103.7, "type": "quantitative", "title": "ϕ"}, "y": {"datum": 0.00774, "type": "quantitative", "axis": null}}},
        {"data": {"values": [{"label": "Experiment"}]},
         "mark": {"type": "text", "align": "left", "baseline": "middle", "font": "Liberation Serif", "fontSize": 11, "color": "black"},
         "encoding": {"x": {"datum": 128.9, "type": "quantitative", "title": "ϕ"}, "y": {"datum": 0.00774, "type": "quantitative", "axis": null}, "text": {"field": "label"}}}
      ]
    },
    {
      "width": 236, "height": 103,
      "resolve": {"axis": {"y": "independent"}},
      "layer": [
        {"data": {"name": "p638"}, "transform": [{"filter": "datum.series !== 'Experiment'"}],
         "mark": {"type": "line", "color": "black", "interpolate": "monotone"},
         "encoding": {
           "x": {"field": "phi", "type": "quantitative", "title": "ϕ", "scale": {"domain": [0, 180], "nice": false},
                 "axis": {"values": [0,5,10,15,20,25,30,35,40,45,50,55,60,65,70,75,80,85,90,95,100,105,110,115,120,125,130,135,140,145,150,155,160,165,170,175,180], "tickCount": 100, "labelExpr": "datum.value % 20 === 0 ? datum.label : ''", "labelFlush": false, "labelOverlap": false, "tickSize": {"condition": {"test": "datum.value % 20 === 0", "value": -4}, "value": -2}, "labelPadding": 6, "titleX": 115, "titleY": 12, "titleBaseline": "alphabetic", "titleFontSize": 13}},
           "y": {"field": "cf", "type": "quantitative", "scale": {"domain": [0, 0.0115], "nice": false},
                 "axis": {"values": [0,0.0005,0.001,0.0015,0.002,0.0025,0.003,0.0035,0.004,0.0045,0.005,0.0055,0.006,0.0065,0.007,0.0075,0.008,0.0085,0.009,0.0095,0.01,0.0105,0.011], "tickCount": 100, "labelExpr": "abs(datum.value*400 - round(datum.value*400)) < 0.001 ? toString(round(datum.value*10000)/10000) : ''", "labelOverlap": false, "tickSize": {"condition": {"test": "abs(datum.value*400 - round(datum.value*400)) < 0.001", "value": -4}, "value": -2}, "labelPadding": 6, "title": "C", "titleX": -27, "titleY": 60, "titleAngle": 270, "titleAlign": "center", "titleBaseline": "alphabetic", "titleFontSize": 15}},
           "strokeDash": {"field": "series", "type": "nominal", "scale": {"domain": ["coarse", "adapted"], "range": [[7, 2, 1.5, 2], [1, 0]]}, "legend": null},
           "strokeWidth": {"field": "series", "type": "ordinal", "scale": {"domain": ["coarse", "adapted"], "range": [1, 1.3]}, "legend": null}
         }},
        {"data": {"name": "p638"}, "transform": [{"filter": "datum.series === 'Experiment'"}],
         "mark": {"type": "circle", "color": "black", "size": 22, "opacity": 1},
         "encoding": {"x": {"field": "phi", "type": "quantitative", "title": "ϕ"}, "y": {"field": "cf", "type": "quantitative", "axis": null}}},
        {"data": {"values": [{"label": "x/L = 0.638"}]},
         "mark": {"type": "text", "align": "left", "baseline": "alphabetic", "font": "Liberation Serif", "fontSize": 14, "color": "black"},
         "encoding": {"x": {"datum": 12.5, "type": "quantitative", "title": "ϕ"},
                      "y": {"datum": 0.0096, "type": "quantitative", "axis": {"orient": "left", "domain": false, "ticks": false, "labels": false, "grid": false, "title": "f", "titleX": -24, "titleY": 52, "titleAngle": 270, "titleAlign": "center", "titleBaseline": "alphabetic", "titleFontSize": 11}},
                      "text": {"field": "label"}}}
      ]
    },
    {
      "width": 236, "height": 103,
      "resolve": {"axis": {"y": "independent"}},
      "layer": [
        {"data": {"name": "p266"}, "transform": [{"filter": "datum.series !== 'Experiment'"}],
         "mark": {"type": "line", "color": "black", "interpolate": "monotone"},
         "encoding": {
           "x": {"field": "phi", "type": "quantitative", "title": "ϕ", "scale": {"domain": [0, 180], "nice": false},
                 "axis": {"values": [0,5,10,15,20,25,30,35,40,45,50,55,60,65,70,75,80,85,90,95,100,105,110,115,120,125,130,135,140,145,150,155,160,165,170,175,180], "tickCount": 100, "labelExpr": "datum.value % 20 === 0 ? datum.label : ''", "labelFlush": false, "labelOverlap": false, "tickSize": {"condition": {"test": "datum.value % 20 === 0", "value": -4}, "value": -2}, "labelPadding": 6, "titleX": 115, "titleY": 12, "titleBaseline": "alphabetic", "titleFontSize": 13}},
           "y": {"field": "cf", "type": "quantitative", "scale": {"domain": [0, 0.0115], "nice": false},
                 "axis": {"values": [0,0.0005,0.001,0.0015,0.002,0.0025,0.003,0.0035,0.004,0.0045,0.005,0.0055,0.006,0.0065,0.007,0.0075,0.008,0.0085,0.009,0.0095,0.01,0.0105,0.011], "tickCount": 100, "labelExpr": "abs(datum.value*400 - round(datum.value*400)) < 0.001 ? toString(round(datum.value*10000)/10000) : ''", "labelOverlap": false, "tickSize": {"condition": {"test": "abs(datum.value*400 - round(datum.value*400)) < 0.001", "value": -4}, "value": -2}, "labelPadding": 6, "title": "C", "titleX": -27, "titleY": 60, "titleAngle": 270, "titleAlign": "center", "titleBaseline": "alphabetic", "titleFontSize": 15}},
           "strokeDash": {"field": "series", "type": "nominal", "scale": {"domain": ["coarse", "adapted"], "range": [[7, 2, 1.5, 2], [1, 0]]}, "legend": null},
           "strokeWidth": {"field": "series", "type": "ordinal", "scale": {"domain": ["coarse", "adapted"], "range": [1, 1.3]}, "legend": null}
         }},
        {"data": {"name": "p266"}, "transform": [{"filter": "datum.series === 'Experiment'"}],
         "mark": {"type": "circle", "color": "black", "size": 22, "opacity": 1},
         "encoding": {"x": {"field": "phi", "type": "quantitative", "title": "ϕ"}, "y": {"field": "cf", "type": "quantitative", "axis": null}}},
        {"data": {"values": [{"label": "x/L = 0.266"}]},
         "mark": {"type": "text", "align": "left", "baseline": "alphabetic", "font": "Liberation Serif", "fontSize": 14, "color": "black"},
         "encoding": {"x": {"datum": 12.5, "type": "quantitative", "title": "ϕ"},
                      "y": {"datum": 0.0096, "type": "quantitative", "axis": {"orient": "left", "domain": false, "ticks": false, "labels": false, "grid": false, "title": "f", "titleX": -24, "titleY": 52, "titleAngle": 270, "titleAlign": "center", "titleBaseline": "alphabetic", "titleFontSize": 11}},
                      "text": {"field": "label"}}}
      ]
    },
    {
      "width": 236, "height": 103,
      "resolve": {"axis": {"y": "independent"}},
      "layer": [
        {"data": {"name": "p774"}, "transform": [{"filter": "datum.series !== 'Experiment'"}],
         "mark": {"type": "line", "color": "black", "interpolate": "monotone"},
         "encoding": {
           "x": {"field": "phi", "type": "quantitative", "title": "ϕ", "scale": {"domain": [0, 180], "nice": false},
                 "axis": {"values": [0,5,10,15,20,25,30,35,40,45,50,55,60,65,70,75,80,85,90,95,100,105,110,115,120,125,130,135,140,145,150,155,160,165,170,175,180], "tickCount": 100, "labelExpr": "datum.value % 20 === 0 ? datum.label : ''", "labelFlush": false, "labelOverlap": false, "tickSize": {"condition": {"test": "datum.value % 20 === 0", "value": -4}, "value": -2}, "labelPadding": 6, "titleX": 115, "titleY": 12, "titleBaseline": "alphabetic", "titleFontSize": 13}},
           "y": {"field": "cf", "type": "quantitative", "scale": {"domain": [0, 0.0115], "nice": false},
                 "axis": {"values": [0,0.0005,0.001,0.0015,0.002,0.0025,0.003,0.0035,0.004,0.0045,0.005,0.0055,0.006,0.0065,0.007,0.0075,0.008,0.0085,0.009,0.0095,0.01,0.0105,0.011], "tickCount": 100, "labelExpr": "abs(datum.value*400 - round(datum.value*400)) < 0.001 ? toString(round(datum.value*10000)/10000) : ''", "labelOverlap": false, "tickSize": {"condition": {"test": "abs(datum.value*400 - round(datum.value*400)) < 0.001", "value": -4}, "value": -2}, "labelPadding": 6, "title": "C", "titleX": -27, "titleY": 60, "titleAngle": 270, "titleAlign": "center", "titleBaseline": "alphabetic", "titleFontSize": 15}},
           "strokeDash": {"field": "series", "type": "nominal", "scale": {"domain": ["coarse", "adapted"], "range": [[7, 2, 1.5, 2], [1, 0]]}, "legend": null},
           "strokeWidth": {"field": "series", "type": "ordinal", "scale": {"domain": ["coarse", "adapted"], "range": [1, 1.3]}, "legend": null}
         }},
        {"data": {"name": "p774"}, "transform": [{"filter": "datum.series === 'Experiment'"}],
         "mark": {"type": "circle", "color": "black", "size": 22, "opacity": 1},
         "encoding": {"x": {"field": "phi", "type": "quantitative", "title": "ϕ"}, "y": {"field": "cf", "type": "quantitative", "axis": null}}},
        {"data": {"values": [{"label": "x/L = 0.774"}]},
         "mark": {"type": "text", "align": "left", "baseline": "alphabetic", "font": "Liberation Serif", "fontSize": 14, "color": "black"},
         "encoding": {"x": {"datum": 12.5, "type": "quantitative", "title": "ϕ"},
                      "y": {"datum": 0.0096, "type": "quantitative", "axis": {"orient": "left", "domain": false, "ticks": false, "labels": false, "grid": false, "title": "f", "titleX": -24, "titleY": 52, "titleAngle": 270, "titleAlign": "center", "titleBaseline": "alphabetic", "titleFontSize": 11}},
                      "text": {"field": "label"}}}
      ]
    },
    {
      "width": 236, "height": 103,
      "resolve": {"axis": {"y": "independent"}},
      "layer": [
        {"data": {"name": "p345"}, "transform": [{"filter": "datum.series !== 'Experiment'"}],
         "mark": {"type": "line", "color": "black", "interpolate": "monotone"},
         "encoding": {
           "x": {"field": "phi", "type": "quantitative", "title": "ϕ", "scale": {"domain": [0, 180], "nice": false},
                 "axis": {"values": [0,5,10,15,20,25,30,35,40,45,50,55,60,65,70,75,80,85,90,95,100,105,110,115,120,125,130,135,140,145,150,155,160,165,170,175,180], "tickCount": 100, "labelExpr": "datum.value % 20 === 0 ? datum.label : ''", "labelFlush": false, "labelOverlap": false, "tickSize": {"condition": {"test": "datum.value % 20 === 0", "value": -4}, "value": -2}, "labelPadding": 6, "titleX": 115, "titleY": 12, "titleBaseline": "alphabetic", "titleFontSize": 13}},
           "y": {"field": "cf", "type": "quantitative", "scale": {"domain": [0, 0.0115], "nice": false},
                 "axis": {"values": [0,0.0005,0.001,0.0015,0.002,0.0025,0.003,0.0035,0.004,0.0045,0.005,0.0055,0.006,0.0065,0.007,0.0075,0.008,0.0085,0.009,0.0095,0.01,0.0105,0.011], "tickCount": 100, "labelExpr": "abs(datum.value*400 - round(datum.value*400)) < 0.001 ? toString(round(datum.value*10000)/10000) : ''", "labelOverlap": false, "tickSize": {"condition": {"test": "abs(datum.value*400 - round(datum.value*400)) < 0.001", "value": -4}, "value": -2}, "labelPadding": 6, "title": "C", "titleX": -27, "titleY": 60, "titleAngle": 270, "titleAlign": "center", "titleBaseline": "alphabetic", "titleFontSize": 15}},
           "strokeDash": {"field": "series", "type": "nominal", "scale": {"domain": ["coarse", "adapted"], "range": [[7, 2, 1.5, 2], [1, 0]]}, "legend": null},
           "strokeWidth": {"field": "series", "type": "ordinal", "scale": {"domain": ["coarse", "adapted"], "range": [1, 1.3]}, "legend": null}
         }},
        {"data": {"name": "p345"}, "transform": [{"filter": "datum.series === 'Experiment'"}],
         "mark": {"type": "circle", "color": "black", "size": 22, "opacity": 1},
         "encoding": {"x": {"field": "phi", "type": "quantitative", "title": "ϕ"}, "y": {"field": "cf", "type": "quantitative", "axis": null}}},
        {"data": {"values": [{"label": "x/L = 0.345"}]},
         "mark": {"type": "text", "align": "left", "baseline": "alphabetic", "font": "Liberation Serif", "fontSize": 14, "color": "black"},
         "encoding": {"x": {"datum": 12.5, "type": "quantitative", "title": "ϕ"},
                      "y": {"datum": 0.0096, "type": "quantitative", "axis": {"orient": "left", "domain": false, "ticks": false, "labels": false, "grid": false, "title": "f", "titleX": -24, "titleY": 52, "titleAngle": 270, "titleAlign": "center", "titleBaseline": "alphabetic", "titleFontSize": 11}},
                      "text": {"field": "label"}}}
      ]
    },
    {
      "width": 236, "height": 103,
      "resolve": {"axis": {"y": "independent"}},
      "layer": [
        {"data": {"name": "p819"}, "transform": [{"filter": "datum.series !== 'Experiment'"}],
         "mark": {"type": "line", "color": "black", "interpolate": "monotone"},
         "encoding": {
           "x": {"field": "phi", "type": "quantitative", "title": "ϕ", "scale": {"domain": [0, 180], "nice": false},
                 "axis": {"values": [0,5,10,15,20,25,30,35,40,45,50,55,60,65,70,75,80,85,90,95,100,105,110,115,120,125,130,135,140,145,150,155,160,165,170,175,180], "tickCount": 100, "labelExpr": "datum.value % 20 === 0 ? datum.label : ''", "labelFlush": false, "labelOverlap": false, "tickSize": {"condition": {"test": "datum.value % 20 === 0", "value": -4}, "value": -2}, "labelPadding": 6, "titleX": 115, "titleY": 12, "titleBaseline": "alphabetic", "titleFontSize": 13}},
           "y": {"field": "cf", "type": "quantitative", "scale": {"domain": [0, 0.0115], "nice": false},
                 "axis": {"values": [0,0.0005,0.001,0.0015,0.002,0.0025,0.003,0.0035,0.004,0.0045,0.005,0.0055,0.006,0.0065,0.007,0.0075,0.008,0.0085,0.009,0.0095,0.01,0.0105,0.011], "tickCount": 100, "labelExpr": "abs(datum.value*400 - round(datum.value*400)) < 0.001 ? toString(round(datum.value*10000)/10000) : ''", "labelOverlap": false, "tickSize": {"condition": {"test": "abs(datum.value*400 - round(datum.value*400)) < 0.001", "value": -4}, "value": -2}, "labelPadding": 6, "title": "C", "titleX": -27, "titleY": 60, "titleAngle": 270, "titleAlign": "center", "titleBaseline": "alphabetic", "titleFontSize": 15}},
           "strokeDash": {"field": "series", "type": "nominal", "scale": {"domain": ["coarse", "adapted"], "range": [[7, 2, 1.5, 2], [1, 0]]}, "legend": null},
           "strokeWidth": {"field": "series", "type": "ordinal", "scale": {"domain": ["coarse", "adapted"], "range": [1, 1.3]}, "legend": null}
         }},
        {"data": {"name": "p819"}, "transform": [{"filter": "datum.series === 'Experiment'"}],
         "mark": {"type": "circle", "color": "black", "size": 22, "opacity": 1},
         "encoding": {"x": {"field": "phi", "type": "quantitative", "title": "ϕ"}, "y": {"field": "cf", "type": "quantitative", "axis": null}}},
        {"data": {"values": [{"label": "x/L = 0.819"}]},
         "mark": {"type": "text", "align": "left", "baseline": "alphabetic", "font": "Liberation Serif", "fontSize": 14, "color": "black"},
         "encoding": {"x": {"datum": 12.5, "type": "quantitative", "title": "ϕ"},
                      "y": {"datum": 0.0096, "type": "quantitative", "axis": {"orient": "left", "domain": false, "ticks": false, "labels": false, "grid": false, "title": "f", "titleX": -24, "titleY": 52, "titleAngle": 270, "titleAlign": "center", "titleBaseline": "alphabetic", "titleFontSize": 11}},
                      "text": {"field": "label"}}}
      ]
    },
    {
      "width": 236, "height": 103,
      "resolve": {"axis": {"y": "independent"}},
      "layer": [
        {"data": {"name": "p501"}, "transform": [{"filter": "datum.series !== 'Experiment'"}],
         "mark": {"type": "line", "color": "black", "interpolate": "monotone"},
         "encoding": {
           "x": {"field": "phi", "type": "quantitative", "title": "ϕ", "scale": {"domain": [0, 180], "nice": false},
                 "axis": {"values": [0,5,10,15,20,25,30,35,40,45,50,55,60,65,70,75,80,85,90,95,100,105,110,115,120,125,130,135,140,145,150,155,160,165,170,175,180], "tickCount": 100, "labelExpr": "datum.value % 20 === 0 ? datum.label : ''", "labelFlush": false, "labelOverlap": false, "tickSize": {"condition": {"test": "datum.value % 20 === 0", "value": -4}, "value": -2}, "labelPadding": 6, "titleX": 115, "titleY": 12, "titleBaseline": "alphabetic", "titleFontSize": 13}},
           "y": {"field": "cf", "type": "quantitative", "scale": {"domain": [0, 0.0115], "nice": false},
                 "axis": {"values": [0,0.0005,0.001,0.0015,0.002,0.0025,0.003,0.0035,0.004,0.0045,0.005,0.0055,0.006,0.0065,0.007,0.0075,0.008,0.0085,0.009,0.0095,0.01,0.0105,0.011], "tickCount": 100, "labelExpr": "abs(datum.value*400 - round(datum.value*400)) < 0.001 ? toString(round(datum.value*10000)/10000) : ''", "labelOverlap": false, "tickSize": {"condition": {"test": "abs(datum.value*400 - round(datum.value*400)) < 0.001", "value": -4}, "value": -2}, "labelPadding": 6, "title": "C", "titleX": -27, "titleY": 60, "titleAngle": 270, "titleAlign": "center", "titleBaseline": "alphabetic", "titleFontSize": 15}},
           "strokeDash": {"field": "series", "type": "nominal", "scale": {"domain": ["coarse", "adapted"], "range": [[7, 2, 1.5, 2], [1, 0]]}, "legend": null},
           "strokeWidth": {"field": "series", "type": "ordinal", "scale": {"domain": ["coarse", "adapted"], "range": [1, 1.3]}, "legend": null}
         }},
        {"data": {"name": "p501"}, "transform": [{"filter": "datum.series === 'Experiment'"}],
         "mark": {"type": "circle", "color": "black", "size": 22, "opacity": 1},
         "encoding": {"x": {"field": "phi", "type": "quantitative", "title": "ϕ"}, "y": {"field": "cf", "type": "quantitative", "axis": null}}},
        {"data": {"values": [{"label": "x/L = 0.501"}]},
         "mark": {"type": "text", "align": "left", "baseline": "alphabetic", "font": "Liberation Serif", "fontSize": 14, "color": "black"},
         "encoding": {"x": {"datum": 12.5, "type": "quantitative", "title": "ϕ"},
                      "y": {"datum": 0.0096, "type": "quantitative", "axis": {"orient": "left", "domain": false, "ticks": false, "labels": false, "grid": false, "title": "f", "titleX": -24, "titleY": 52, "titleAngle": 270, "titleAlign": "center", "titleBaseline": "alphabetic", "titleFontSize": 11}},
                      "text": {"field": "label"}}}
      ]
    },
    {
      "width": 236, "height": 103,
      "resolve": {"axis": {"y": "independent"}},
      "layer": [
        {"data": {"name": "p863"}, "transform": [{"filter": "datum.series !== 'Experiment'"}],
         "mark": {"type": "line", "color": "black", "interpolate": "monotone"},
         "encoding": {
           "x": {"field": "phi", "type": "quantitative", "title": "ϕ", "scale": {"domain": [0, 180], "nice": false},
                 "axis": {"values": [0,5,10,15,20,25,30,35,40,45,50,55,60,65,70,75,80,85,90,95,100,105,110,115,120,125,130,135,140,145,150,155,160,165,170,175,180], "tickCount": 100, "labelExpr": "datum.value % 20 === 0 ? datum.label : ''", "labelFlush": false, "labelOverlap": false, "tickSize": {"condition": {"test": "datum.value % 20 === 0", "value": -4}, "value": -2}, "labelPadding": 6, "titleX": 115, "titleY": 12, "titleBaseline": "alphabetic", "titleFontSize": 13}},
           "y": {"field": "cf", "type": "quantitative", "scale": {"domain": [0, 0.0115], "nice": false},
                 "axis": {"values": [0,0.0005,0.001,0.0015,0.002,0.0025,0.003,0.0035,0.004,0.0045,0.005,0.0055,0.006,0.0065,0.007,0.0075,0.008,0.0085,0.009,0.0095,0.01,0.0105,0.011], "tickCount": 100, "labelExpr": "abs(datum.value*400 - round(datum.value*400)) < 0.001 ? toString(round(datum.value*10000)/10000) : ''", "labelOverlap": false, "tickSize": {"condition": {"test": "abs(datum.value*400 - round(datum.value*400)) < 0.001", "value": -4}, "value": -2}, "labelPadding": 6, "title": "C", "titleX": -27, "titleY": 60, "titleAngle": 270, "titleAlign": "center", "titleBaseline": "alphabetic", "titleFontSize": 15}},
           "strokeDash": {"field": "series", "type": "nominal", "scale": {"domain": ["coarse", "adapted"], "range": [[7, 2, 1.5, 2], [1, 0]]}, "legend": null},
           "strokeWidth": {"field": "series", "type": "ordinal", "scale": {"domain": ["coarse", "adapted"], "range": [1, 1.3]}, "legend": null}
         }},
        {"data": {"name": "p863"}, "transform": [{"filter": "datum.series === 'Experiment'"}],
         "mark": {"type": "circle", "color": "black", "size": 22, "opacity": 1},
         "encoding": {"x": {"field": "phi", "type": "quantitative", "title": "ϕ"}, "y": {"field": "cf", "type": "quantitative", "axis": null}}},
        {"data": {"values": [{"label": "x/L = 0.863"}]},
         "mark": {"type": "text", "align": "left", "baseline": "alphabetic", "font": "Liberation Serif", "fontSize": 14, "color": "black"},
         "encoding": {"x": {"datum": 12.5, "type": "quantitative", "title": "ϕ"},
                      "y": {"datum": 0.0096, "type": "quantitative", "axis": {"orient": "left", "domain": false, "ticks": false, "labels": false, "grid": false, "title": "f", "titleX": -24, "titleY": 52, "titleAngle": 270, "titleAlign": "center", "titleBaseline": "alphabetic", "titleFontSize": 11}},
                      "text": {"field": "label"}}}
      ]
    }
  ]
}
